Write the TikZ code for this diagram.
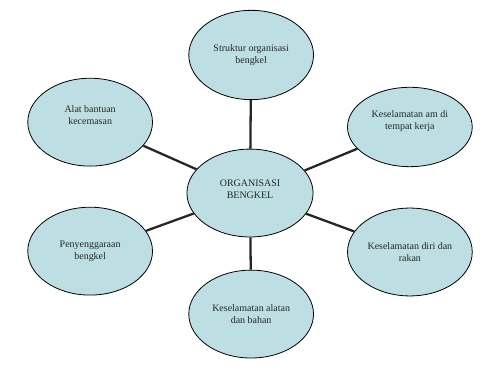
\documentclass[tikz,border=0pt]{standalone}
\usepackage{fontspec}
\setmainfont{Liberation Serif}
\usepackage{xcolor}
\usepackage{tikz}
\usetikzlibrary{shapes.geometric, positioning}
\definecolor{topicfill}{RGB}{189,223,227}
\tikzset{
  topicbox/.style={
    ellipse, draw, line width=0.8pt, fill=topicfill, align=center,
    inner sep=0pt, minimum width=4.4cm, minimum height=3.1cm,
    font=\fontsize{10}{12}\selectfont, text=black!85
  },
  topictext/.style={
    align=center, inner sep=0pt,
    font=\fontsize{10}{12}\selectfont, text=black!85
  },
  linkline/.style={
    line width=2.3pt, color=black!85
  },
}

\begin{document}
\begin{tikzpicture}
  \useasboundingbox (-8.82,-6.91) rectangle (8.96,6.81);

  % === Central topic ===
  \node[topicbox, minimum width=4.45cm,
    label={[topictext, yshift=0.15cm]center:{ORGANISASI\\BENGKEL}}] (hub) at (0, 0) {};

  % === Sub-topics ===
  \node[topicbox, minimum height=3.15cm] (struktur) at (0.04, 4.87)
    {Struktur organisasi\\bengkel};
  \node[topicbox,
    label={[topictext, yshift=0.26cm]center:{Alat bantuan\\kecemasan}}] (kecemasan) at (-5.64, 2.50) {};
  \node[topicbox, minimum height=2.8cm,
    label={[topictext, yshift=0.2cm]center:{Keselamatan am di\\tempat kerja}}] (tempatkerja) at (5.64, 2.33) {};
  \node[topicbox] (penyenggaraan) at (-5.64, -2.05)
    {Penyenggaraan\\bengkel};
  \node[topicbox] (diri) at (5.64, -2.08)
    {Keselamatan diri dan\\rakan};
  \node[topicbox] (alatan) at (0.04, -4.27)
    {Keselamatan alatan\\dan bahan};

  % === Links ===
  \draw[linkline] (hub) -- (struktur);
  \draw[linkline] (hub) -- (kecemasan);
  \draw[linkline] (hub) -- (tempatkerja);
  \draw[linkline] (hub) -- (penyenggaraan);
  \draw[linkline] (hub) -- (diri);
  \draw[linkline] (hub) -- (alatan);

\end{tikzpicture}
\end{document}
